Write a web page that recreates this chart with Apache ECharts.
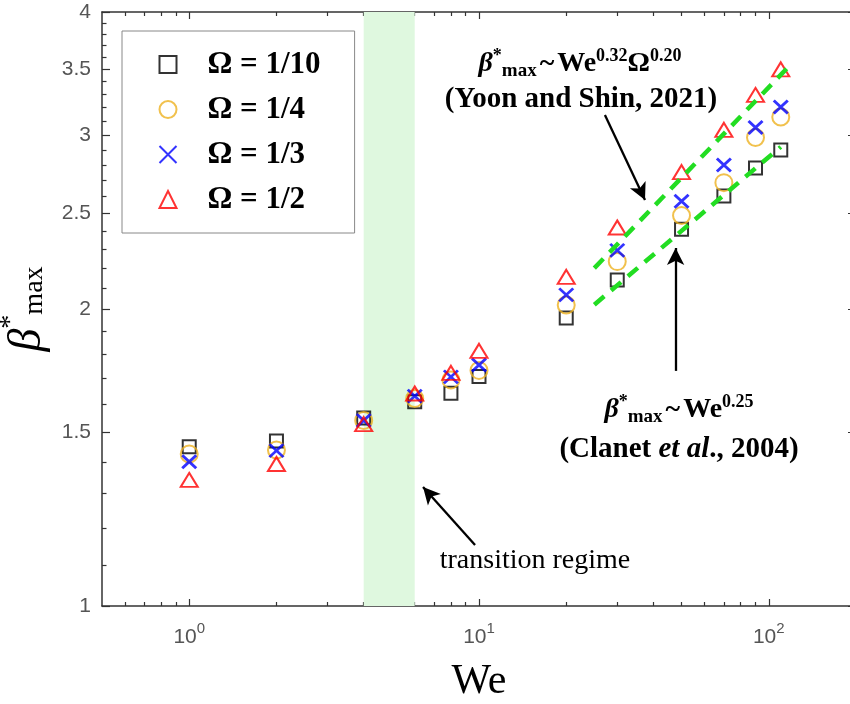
<!DOCTYPE html>
<html><head><meta charset="utf-8">
<script src="https://cdn.jsdelivr.net/npm/echarts@6/dist/echarts.min.js"></script>
<style>html,body{margin:0;padding:0;background:#fff}#c{width:850px;height:704px}</style>
</head><body><div id="c"></div>
<script>
// ---- data ----
const we = [1, 2, 4, 6, 8, 10, 20, 30, 50, 70, 90, 110];
const betaOmega10 = [1.450, 1.470, 1.551, 1.611, 1.643, 1.708, 1.958, 2.140, 2.409, 2.604, 2.780, 2.899];
const betaOmega4  = [1.426, 1.439, 1.542, 1.623, 1.695, 1.733, 2.019, 2.234, 2.488, 2.686, 2.985, 3.131];
const betaOmega3  = [1.400, 1.437, 1.542, 1.632, 1.707, 1.755, 2.067, 2.293, 2.572, 2.799, 3.055, 3.205];
const betaOmega2  = [1.342, 1.393, 1.529, 1.642, 1.723, 1.814, 2.156, 2.419, 2.753, 3.038, 3.296, 3.499];
const seriesNames = ['Ω = 1/10', 'Ω = 1/4', 'Ω = 1/3', 'Ω = 1/2'];
const yoonWe = [25, 117];
const yoonBeta = [2.20, 3.52];
const clanetWe = [25, 110];
const clanetBeta = [2.02, 2.92];
const transitionBand = [4, 6];
const xRange = [0.5, 200];
const yRange = [1, 4];
const xMajorTicks = [1, 10, 100];
const xMinorTicks = [0.6, 0.7, 0.8, 0.9, 2, 3, 4, 5, 6, 7, 8, 9, 20, 30, 40, 50, 60, 70, 80, 90, 200];
const yMajorTicks = [1, 1.5, 2, 2.5, 3, 3.5, 4];
const yMinorTicks = [1.1, 1.2, 1.3, 1.4, 1.6, 1.7, 1.8, 1.9, 2.1, 2.2, 2.3, 2.4, 2.6, 2.7, 2.8, 2.9,
                     3.1, 3.2, 3.3, 3.4, 3.6, 3.7, 3.8, 3.9];
// annotation arrows: [start, tip] in (We, beta)
const arrowYoon = [[27.2, 3.146], [37.4, 2.579]];
const arrowClanet = [[47.7, 1.731], [47.7, 2.306]];
const arrowTransition = [[9.69, 1.153], [6.41, 1.320]];

const F = 'Liberation Serif';
const S = 'Liberation Sans';
const AX = '#333';
const chart = echarts.init(document.getElementById('c'), null, {renderer: 'canvas'});

const gridPos = {left: 102, right: -6, top: 12, bottom: 98, outerBoundsMode: 'none', containLabel: false};
const grids = [0, 1, 2, 3].map(() => Object.assign({}, gridPos));

function xAx(gi, pos, ticks, len, line, labels) {
  return {
    type: 'log', logBase: 10, gridIndex: gi, position: pos, min: xRange[0], max: xRange[1],
    splitLine: {show: false}, minorTick: {show: false},
    axisLine: {show: line, onZero: false, lineStyle: {color: AX, width: 1.5}},
    axisTick: {show: true, inside: true, length: len, customValues: ticks, lineStyle: {color: AX, width: 1.2}},
    axisLabel: labels ? {
      show: true, customValues: xMajorTicks, margin: 15,
      formatter: v => '{b|10}{s|' + Math.round(Math.log10(v)) + '}',
      rich: {
        b: {fontFamily: S, fontSize: 21, color: '#555', padding: [6, 0, 0, 0], verticalAlign: 'top'},
        s: {fontFamily: S, fontSize: 15, color: '#555', verticalAlign: 'top'}
      }
    } : {show: false},
    name: labels ? 'We' : '', nameLocation: 'middle', nameGap: 55,
    nameTextStyle: {fontFamily: F, fontSize: 42, color: '#000'}
  };
}
function yAx(gi, pos, ticks, len, line, labels) {
  return {
    type: 'log', logBase: 10, gridIndex: gi, position: pos, min: yRange[0], max: yRange[1],
    splitLine: {show: false}, minorTick: {show: false},
    axisLine: {show: line, onZero: false, lineStyle: {color: AX, width: 1.5}},
    axisTick: {show: true, inside: true, length: len, customValues: ticks, lineStyle: {color: AX, width: 1.2}},
    axisLabel: labels ? {
      show: true, customValues: yMajorTicks, margin: 11,
      formatter: v => String(Math.round(v * 10) / 10),
      fontFamily: S, fontSize: 21, color: '#555'
    } : {show: false},
    name: labels ? '{g|β}{s|*}{m|max}' : '', nameLocation: 'middle', nameGap: 41, nameRotate: 90,
    nameTextStyle: {
      color: '#000',
      rich: {
        g: {fontFamily: F, fontSize: 46, fontStyle: 'italic', color: '#000', padding: [8, 0, 0, 0], verticalAlign: 'top'},
        s: {fontFamily: F, fontSize: 28, color: '#000', verticalAlign: 'top'},
        m: {fontFamily: F, fontSize: 28, color: '#000', padding: [24, 0, 0, 0], verticalAlign: 'top'}
      }
    }
  };
}

const xAxes = [
  xAx(0, 'bottom', xMajorTicks, 7, true, true),
  xAx(1, 'bottom', xMinorTicks, 4, false, false),
  xAx(2, 'top', xMajorTicks, 7, true, false),
  xAx(3, 'top', xMinorTicks, 4, false, false)
];
const yAxes = [
  yAx(0, 'left', yMajorTicks, 8, true, true),
  yAx(1, 'left', yMinorTicks, 4.5, false, false),
  yAx(2, 'right', yMajorTicks, 8, true, false),
  yAx(3, 'right', yMinorTicks, 4.5, false, false)
];

const pairs = arr => we.map((x, i) => [x, arr[i]]);
const hollow = (c, w) => ({color: 'none', borderColor: c, borderWidth: w});
const green = {color: '#22dd22', width: 4.5, type: [13, 9]};
const arrowLine = a => [{coord: a[0]}, {coord: a[1]}];

const series = [
  {type: 'scatter', name: '_band', data: [], xAxisIndex: 0, yAxisIndex: 0, silent: true,
   markArea: {silent: true, z: 1, itemStyle: {color: '#dff8df'},
     data: [[{xAxis: transitionBand[0]}, {xAxis: transitionBand[1]}]]}},
  {type: 'scatter', name: seriesNames[0], data: pairs(betaOmega10), symbol: 'rect', symbolSize: 13,
   itemStyle: hollow('#000', 2), z: 2},
  {type: 'scatter', name: seriesNames[1], data: pairs(betaOmega4), symbol: 'circle', symbolSize: 17,
   itemStyle: hollow('#EDB120', 2), z: 2},
  {type: 'scatter', name: seriesNames[2], data: pairs(betaOmega3), symbol: 'path://M0,0L10,10M10,0L0,10', symbolSize: [14, 13],
   itemStyle: hollow('#0000FF', 2.8), z: 2},
  {type: 'scatter', name: seriesNames[3], data: pairs(betaOmega2), symbol: 'triangle', symbolSize: [17, 14],
   itemStyle: hollow('#FF0000', 2), z: 2},
  {type: 'line', name: '_yoon', data: yoonWe.map((x, i) => [x, yoonBeta[i]]), symbol: 'none', silent: true,
   lineStyle: green, z: 3,
   markLine: {silent: true, z: 5, symbol: ['none', 'arrow'], symbolSize: [13, 17], label: {show: false},
     lineStyle: {color: '#000', width: 2.3, type: 'solid'},
     data: [arrowLine(arrowYoon), arrowLine(arrowClanet), arrowLine(arrowTransition)]}},
  {type: 'line', name: '_clanet', data: clanetWe.map((x, i) => [x, clanetBeta[i]]), symbol: 'none', silent: true,
   lineStyle: green, z: 3}
];

const rich = {
  g: {fontFamily: F, fontSize: 28, fontWeight: 'bold', fontStyle: 'italic', color: '#000', padding: [3, 0, 0, 0], verticalAlign: 'top'},
  n: {fontFamily: F, fontSize: 28, fontWeight: 'bold', color: '#000', padding: [3, 0, 0, 0], verticalAlign: 'top'},
  w: {fontFamily: F, fontSize: 28, fontWeight: 'bold', color: '#000', padding: [3, 3, 0, 3], verticalAlign: 'top'},
  p: {fontFamily: F, fontSize: 29, fontWeight: 'bold', color: '#000', padding: [3, 0, 0, 0], verticalAlign: 'top'},
  i: {fontFamily: F, fontSize: 29, fontWeight: 'bold', fontStyle: 'italic', color: '#000', padding: [3, 0, 0, 0], verticalAlign: 'top'},
  sup: {fontFamily: F, fontSize: 18, fontWeight: 'bold', color: '#000', verticalAlign: 'top'},
  sub: {fontFamily: F, fontSize: 19, fontWeight: 'bold', color: '#000', padding: [15, 0, 0, 0], verticalAlign: 'top'},
  t: {fontFamily: F, fontSize: 28, color: '#000'}
};
function txt(x, y, text) {
  return {type: 'text', x: x, y: y, z: 10, silent: true,
    style: {text: text, rich: rich, align: 'center', verticalAlign: 'middle', textAlign: 'center', textVerticalAlign: 'middle'}};
}

chart.setOption({
  animation: false,
  backgroundColor: '#fff',
  grid: grids,
  xAxis: xAxes,
  yAxis: yAxes,
  legend: {
    data: seriesNames, orient: 'vertical', left: 122, top: 31,
    padding: [18, 34, 18, 35], itemWidth: 17, itemHeight: 17, itemGap: 14,
    borderColor: '#888', borderWidth: 1, backgroundColor: '#fff', selectedMode: false,
    formatter: name => '{a|' + name + '}',
    textStyle: {
      fontFamily: F, fontWeight: 'bold', fontSize: 31, color: '#000', lineHeight: 31,
      rich: {a: {fontFamily: F, fontWeight: 'bold', fontSize: 31, color: '#000', lineHeight: 31, padding: [0, 0, 0, 26]}}
    }
  },
  series: series,
  graphic: [
    txt(580, 64, '{g|β}{sup|*}{sub|max}{w|~}{n|We}{sup|0.32}{n|Ω}{sup|0.20}'),
    txt(581, 98, '{p|(Yoon and Shin, 2021)}'),
    txt(679, 410, '{g|β}{sup|*}{sub|max}{w|~}{n|We}{sup|0.25}'),
    txt(679, 448, '{p|(Clanet }{i|et al}{p|., 2004)}'),
    txt(535, 561, '{t|transition regime}')
  ]
});
</script></body></html>
